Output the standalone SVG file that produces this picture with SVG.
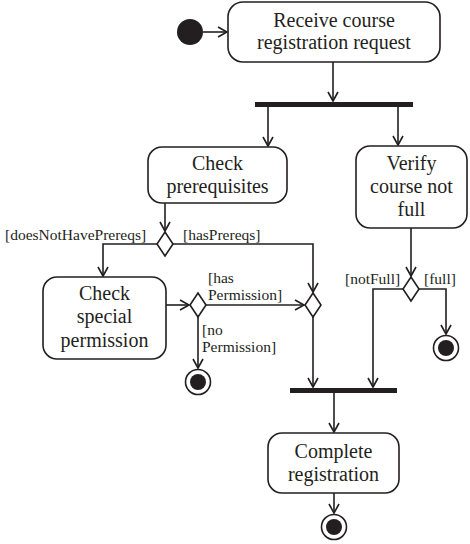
<svg xmlns="http://www.w3.org/2000/svg" width="470" height="544" viewBox="0 0 470 544">
<style>
.box{fill:#fff;stroke:#231f20;stroke-width:1.6}
.t{font-family:"Liberation Serif","Times New Roman",serif;font-size:20px;fill:#231f20;text-anchor:middle}
.lb{font-family:"Liberation Serif","Times New Roman",serif;font-size:15.5px;fill:#231f20}
.c{fill:none;stroke:#231f20;stroke-width:1.6;marker-end:url(#a)}
.dm{fill:#fff;stroke:#231f20;stroke-width:1.6}
.bar{fill:#231f20}
</style>
<defs>
<marker id="a" markerUnits="userSpaceOnUse" markerWidth="12" markerHeight="12" refX="10" refY="6" orient="auto">
<path d="M1,1 L10,6 L1,11" fill="none" stroke="#231f20" stroke-width="1.6"/>
</marker>
</defs>
<g id="connectors">
<path class="c" d="M203,32 H227"/>
<path class="c" d="M333,62 V101"/>
<path class="c" d="M268,107 V146"/>
<path class="c" d="M398,107 V145"/>
<path class="c" d="M165,203 V231"/>
<path class="c" d="M157,244 H103 V276"/>
<path class="c" d="M173,244 H313 V292"/>
<path class="c" d="M166,305 H189"/>
<path class="c" d="M206,305 H304"/>
<path class="c" d="M198,317 V368"/>
<path class="c" d="M313,317 V387"/>
<path class="c" d="M411,228 V276"/>
<path class="c" d="M403,289 H373 V387"/>
<path class="c" d="M419,289 H446 V334"/>
<path class="c" d="M334,392 V432"/>
<path class="c" d="M334,493 V513"/>
</g>
<g id="start"><circle cx="190" cy="32" r="13" fill="#231f20"/></g>
<g id="receive">
<rect class="box" x="228" y="2" width="212" height="60" rx="15"/>
<text class="t" x="334" y="27">Receive course</text>
<text class="t" x="334" y="49">registration request</text>
</g>
<g id="fork"><rect class="bar" x="255" y="102" width="158" height="5"/></g>
<g id="checkPrereq">
<rect class="box" x="148" y="147" width="139" height="56" rx="14"/>
<text class="t" x="217.5" y="170">Check</text>
<text class="t" x="217.5" y="193">prerequisites</text>
</g>
<g id="verify">
<rect class="box" x="356" y="146" width="111" height="82" rx="14"/>
<text class="t" x="411.5" y="170">Verify</text>
<text class="t" x="411.5" y="193">course not</text>
<text class="t" x="411.5" y="216">full</text>
</g>
<g id="decision1">
<polygon class="dm" points="165,232 173,244 165,256 157,244"/>
<text class="lb" x="5" y="240">[doesNotHavePrereqs]</text>
<text class="lb" x="183" y="240">[hasPrereqs]</text>
</g>
<g id="checkSpecial">
<rect class="box" x="43" y="277" width="123" height="82" rx="14"/>
<text class="t" x="104.5" y="300">Check</text>
<text class="t" x="104.5" y="323">special</text>
<text class="t" x="104.5" y="347">permission</text>
</g>
<g id="decision2">
<polygon class="dm" points="198,293 206,305 198,317 190,305"/>
<text class="lb" x="208" y="283">[has</text>
<text class="lb" x="208" y="300">Permission]</text>
<text class="lb" x="202" y="335">[no</text>
<text class="lb" x="202" y="352">Permission]</text>
</g>
<g id="final1"><circle cx="198" cy="382" r="12.5" fill="#fff" stroke="#231f20" stroke-width="1.6"/><circle cx="198" cy="382" r="8" fill="#231f20"/></g>
<g id="merge">
<polygon class="dm" points="313,293 321,305 313,317 305,305"/>
</g>
<g id="decision3">
<polygon class="dm" points="411,277 419,289 411,301 403,289"/>
<text class="lb" x="345" y="284">[notFull]</text>
<text class="lb" x="424" y="284">[full]</text>
</g>
<g id="final2"><circle cx="446" cy="348" r="12.5" fill="#fff" stroke="#231f20" stroke-width="1.6"/><circle cx="446" cy="348" r="8" fill="#231f20"/></g>
<g id="join"><rect class="bar" x="290" y="388" width="107" height="5"/></g>
<g id="complete">
<rect class="box" x="268" y="433" width="131" height="60" rx="14"/>
<text class="t" x="333.5" y="458">Complete</text>
<text class="t" x="333.5" y="481">registration</text>
</g>
<g id="final3"><circle cx="334" cy="527" r="12.5" fill="#fff" stroke="#231f20" stroke-width="1.6"/><circle cx="334" cy="527" r="8" fill="#231f20"/></g>
</svg>
